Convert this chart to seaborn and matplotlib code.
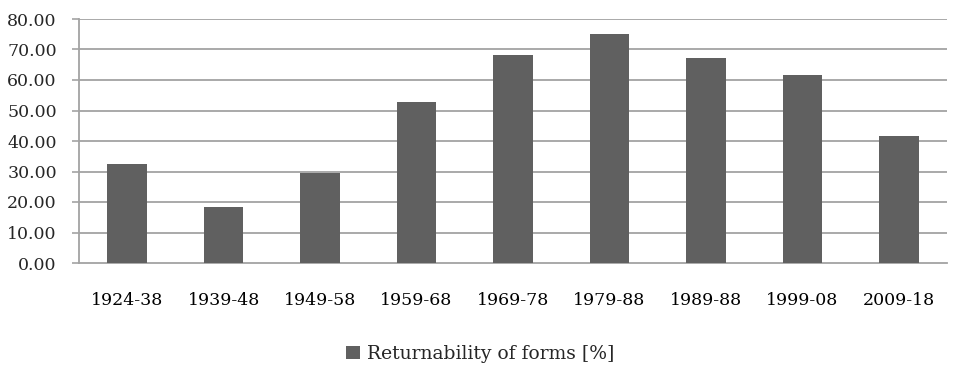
import matplotlib
matplotlib.use("Agg")
import matplotlib.pyplot as plt
import seaborn as sns
import numpy as np

periods = ["1924-38", "1939-48", "1949-58", "1959-68", "1969-78",
           "1979-88", "1989-88", "1999-08", "2009-18"]
returnability = [32.6, 18.3, 29.5, 52.9, 68.3, 75.0, 67.2, 61.8, 41.6]
y_ticks = [0, 10, 20, 30, 40, 50, 60, 70, 80]

sns.set_theme(style="white")
plt.rcParams["font.family"] = ["DejaVu Serif"]

fig = plt.figure(figsize=(9.6, 3.74), dpi=100)
ax = fig.add_axes([79 / 960, 1 - 263 / 374, (947 - 79) / 960, (263 - 19) / 374])

grid_c = "#a3a3a3"
sns.barplot(x=periods, y=returnability, color="#606060", width=0.41,
            saturation=1, ax=ax, label="Returnability of forms [%]", zorder=3,
            linewidth=0)

ax.set_ylim(0, 80)
ax.set_xlim(-0.5, len(periods) - 0.5)
ax.set_yticks(y_ticks)
ax.set_yticklabels([f"{v:.2f}" for v in y_ticks])
for v in y_ticks[1:]:
    ax.axhline(v, color=grid_c, lw=1.3, zorder=1)

ax.set_xticks(np.arange(len(periods)))
ax.set_xticklabels(periods)
ax.set_xticks(np.arange(len(periods) + 1) - 0.5, minor=True)
ax.tick_params(axis="x", which="major", length=0, pad=21, labelsize=12.5, colors="black")
ax.tick_params(axis="x", which="minor", length=5, width=1.2, color=grid_c, direction="out")
ax.tick_params(axis="y", length=5, width=1.2, color=grid_c, pad=11, labelsize=12.5, left=True)

for s in ["top", "right"]:
    ax.spines[s].set_visible(False)
for s in ["left", "bottom"]:
    ax.spines[s].set_color(grid_c)
    ax.spines[s].set_linewidth(1.3)
ax.set_xlabel("")
ax.set_ylabel("")

handles, labels = ax.get_legend_handles_labels()
if ax.get_legend() is not None:
    ax.get_legend().remove()
fig.legend(handles, labels, loc="center", bbox_to_anchor=(0.5, 1 - 354 / 374),
           frameon=False, handlelength=0.75, handleheight=0.75, handletextpad=0.4,
           fontsize=13.5)

fig.savefig("out.png", dpi=100)
